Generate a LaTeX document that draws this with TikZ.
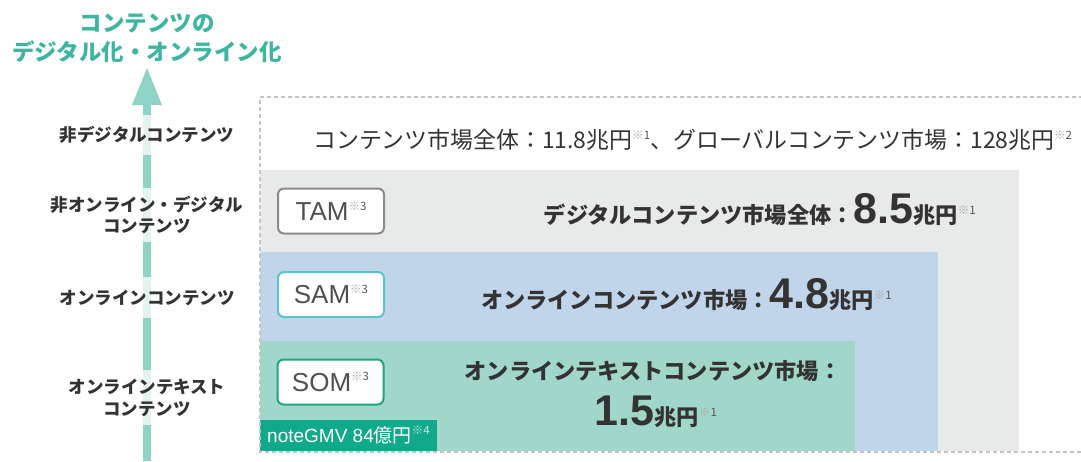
\documentclass[tikz,border=0pt]{standalone}
\usepackage{fontspec}
\setmainfont{Noto Sans CJK JP}
\newfontfamily\lat{Liberation Sans}
\definecolor{titlec}{HTML}{3DB59F}
\definecolor{arrowc}{HTML}{8ED3C5}
\definecolor{palec}{HTML}{E4F3EF}
\definecolor{txt}{HTML}{333333}
\definecolor{tamfill}{HTML}{E8E9E9}
\definecolor{samfill}{HTML}{C0D5E9}
\definecolor{somfill}{HTML}{A0D7CA}
\definecolor{gmvfill}{HTML}{10A98A}
\definecolor{tamline}{HTML}{8A8A8A}
\definecolor{samline}{HTML}{5CC3CC}
\definecolor{somline}{HTML}{1EA77F}
\definecolor{dashc}{HTML}{C4C4C4}
\definecolor{notestar}{HTML}{A8A8A8}
\definecolor{notenum}{HTML}{555555}
\definecolor{labtext}{HTML}{505050}
\newcommand\myfs[1]{\fontsize{#1}{#1}\selectfont}
\newcommand\nt[1]{\raisebox{0.4em}{\rmfamily\mdseries\myfs{11.5}\textcolor{notestar}{※}\textcolor{notenum}{#1}}}
\newcommand\ntw[1]{\raisebox{0.4em}{\rmfamily\mdseries\myfs{11.5}\textcolor{white!75!gmvfill}{※#1}}}
\tikzset{
  every node/.style={inner sep=0pt, text=txt},
  leftlab/.style={align=center, font=\bfseries\myfs{17.5}, text=txt},
  lab/.style={draw, line width=2pt, rounded corners=6pt, fill=white,
    minimum width=106pt, minimum height=45pt, font=\lat\myfs{26}, text=labtext},
  band/.style={font=\bfseries\myfs{22.2}, text=txt},
  gmvbox/.style={fill=gmvfill, minimum width=177pt, minimum height=31pt,
    font=\lat\myfs{19}, text=white},
  outer/.style={draw=dashc, line width=1.5pt, dash pattern=on 4pt off 3pt},
}
\newcommand\bignum[1]{{\lat\bfseries\myfs{43}#1}}
\begin{document}
\begin{tikzpicture}[x=1pt,y=-1pt]
\useasboundingbox[fill=white] (0,0) rectangle (1081,461);
% title
\node[font=\bfseries\myfs{22.5}, text=titlec, align=center] (title) at (147,38)
  {コンテンツの\\[7pt]デジタル化・オンライン化};
% vertical arrow
\fill[palec] (143,104) rectangle (151,461);
\fill[arrowc] (147,68) -- (162,105) -- (132,105) -- cycle;
\fill[arrowc] (143,104) rectangle (151,115);
\fill[arrowc] (143,155) rectangle (151,188);
\fill[arrowc] (143,242) rectangle (151,277);
\fill[arrowc] (143,318) rectangle (151,370);
\fill[arrowc] (143,425) rectangle (151,461);
% left labels
\node[leftlab] (l1) at (147,135) {非デジタルコンテンツ};
\node[leftlab] (l2) at (147,215) {非オンライン・デジタル\\[4pt]コンテンツ};
\node[leftlab] (l3) at (147,298) {オンラインコンテンツ};
\node[leftlab] (l4) at (147,398) {オンラインテキスト\\[4pt]コンテンツ};
% bands
\fill[tamfill] (260,170) rectangle (1019,451);
\fill[samfill] (260,252) rectangle (938,451);
\fill[somfill] (260,341) rectangle (855,451);
% top text
\node[anchor=west, font=\myfs{22.9}, text=txt] (total) at (313,140)
  {コンテンツ市場全体：11.8兆円\nt{1}、グローバルコンテンツ市場：128兆円\nt{2}};
% TAM
\node[lab, draw=tamline] (tam) at (331,211) {TAM\nt{3}};
\node[band, anchor=base east] (tamt) at (976,223)
  {デジタルコンテンツ市場全体：\bignum{8.5}兆円\nt{1}};
% SAM
\node[lab, draw=samline] (sam) at (331,294.5) {SAM\nt{3}};
\node[band, anchor=base east] (samt) at (892,308)
  {オンラインコンテンツ市場：\bignum{4.8}兆円\nt{1}};
% SOM
\node[lab, draw=somline] (som) at (330.5,382) {SOM\nt{3}};
\node[band] (somt1) at (653,371) {オンラインテキストコンテンツ市場：};
\node[band, anchor=base] (somt2) at (656,425)
  {\bignum{1.5}兆円\nt{1}};
% noteGMV
\node[gmvbox, anchor=south west] (gmv) at (260,451)
  {\makebox[163pt][l]{noteGMV 84{\rmfamily 億円}\ntw{4}}};
% dashed outline
\draw[outer] (1090,97) -- (260,97) -- (260,452) -- (1090,452);
\end{tikzpicture}
\end{document}
